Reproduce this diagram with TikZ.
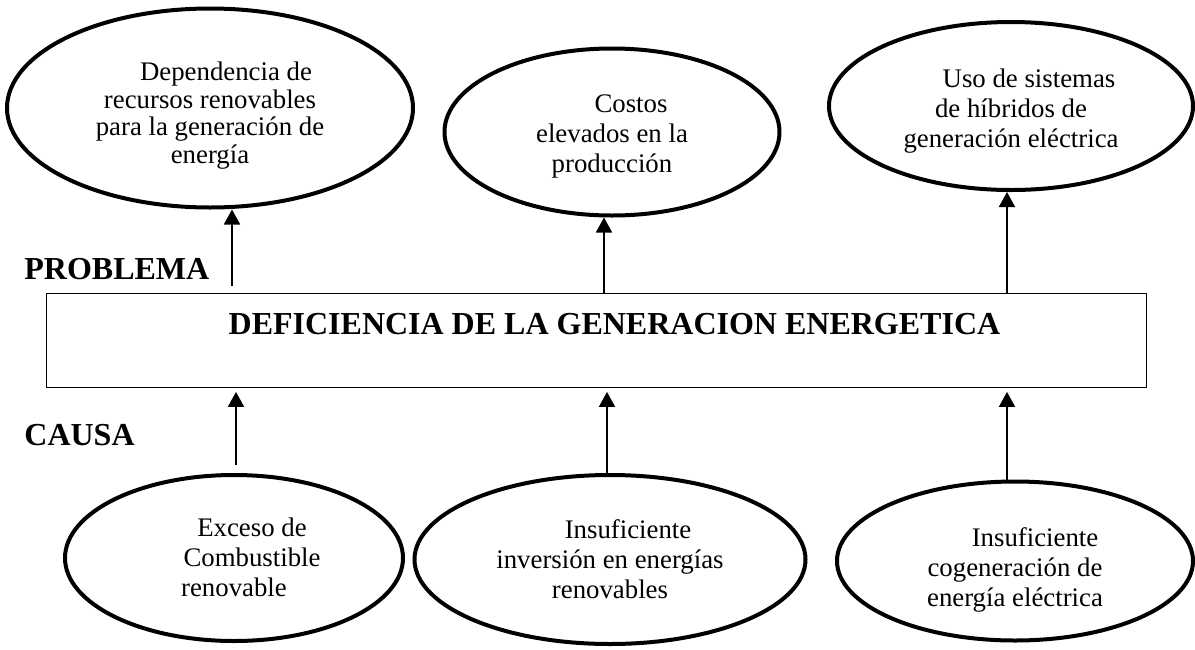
\documentclass[tikz,border=0pt]{standalone}
\usepackage{fontspec}
\setmainfont{Liberation Serif}
\usetikzlibrary{arrows.meta,shapes.geometric}

\tikzset{
  elipse/.style={draw, ellipse, line width=2pt, inner sep=0pt, align=center,
    font=\fontsize{13.4}{15}\selectfont, text depth=4pt},
  flecha/.style={-{Triangle[length=7.5pt,width=8pt]}, line width=0.9pt},
  etiqueta/.style={font=\fontsize{16}{19}\selectfont\bfseries, anchor=base west, inner sep=0pt}
}

\begin{document}
\begin{tikzpicture}[x=0.5pt,y=-0.5pt]
\useasboundingbox (0,0) rectangle (1195,649);

% efectos
\node[elipse, minimum width=203pt, minimum height=99.5pt, text height=59pt,
  font=\fontsize{13.4}{13.75}\selectfont] (dep) at (210,108)
  {\hspace*{16pt}Dependencia de\\recursos renovables\\para la generación de\\energía};
\node[elipse, minimum width=167.5pt, minimum height=83.5pt, text height=44pt] (cost) at (612,132)
  {\hspace*{19pt}Costos\\elevados en la\\producción};
\node[elipse, minimum width=182pt, minimum height=84pt, text height=45pt] (hib) at (1011,106)
  {\hspace*{18pt}Uso de sistemas\\de híbridos de\\generación eléctrica};

% problema
\node[etiqueta] (prob) at (24,279) {PROBLEMA};
\node[draw, line width=0.8pt, minimum width=550pt, minimum height=47pt,
  text height=10pt, text depth=16.5pt, font=\fontsize{16}{19}\selectfont\bfseries] (box) at (596.5,340.5)
  {\hspace*{18pt}DEFICIENCIA DE LA GENERACION ENERGETICA};
\node[etiqueta] (causa) at (24,445) {CAUSA};

% causas
\node[elipse, minimum width=169pt, minimum height=83pt, text height=42pt] (exc) at (234,558)
  {\hspace*{18pt}Exceso de\\\hspace*{18pt}Combustible\\renovable};
\node[elipse, minimum width=195.5pt, minimum height=84.5pt, text height=42.5pt] (inv) at (610,559.5)
  {\hspace*{18pt}Insuficiente\\inversión en energías\\renovables};
\node[elipse, minimum width=178pt, minimum height=79.5pt, text height=49pt] (cog) at (1015,561)
  {\hspace*{20pt}Insuficiente\\cogeneración de\\energía eléctrica};

\coordinate (x1) at (232,0);
\coordinate (x2) at (604,0);
\coordinate (x3) at (1007,0);
\coordinate (x4) at (236,0);
\coordinate (x5) at (607,0);
\coordinate (x6) at (1007,0);

% problema -> efectos
\draw[flecha, shorten <=3.5pt] (box.north -| x1) -- (dep.south -| x1);
\draw[flecha] (box.north -| x2) -- (cost.south -| x2);
\draw[flecha] (box.north -| x3) -- (hib.south -| x3);

% causas -> problema
\draw[flecha, shorten <=4pt, shorten >=1.8pt] (exc.north -| x4) -- (box.south -| x4);
\draw[flecha, shorten >=1.8pt] (inv.north -| x5) -- (box.south -| x5);
\draw[flecha, shorten >=1.8pt] (cog.north -| x6) -- (box.south -| x6);
\end{tikzpicture}
\end{document}
